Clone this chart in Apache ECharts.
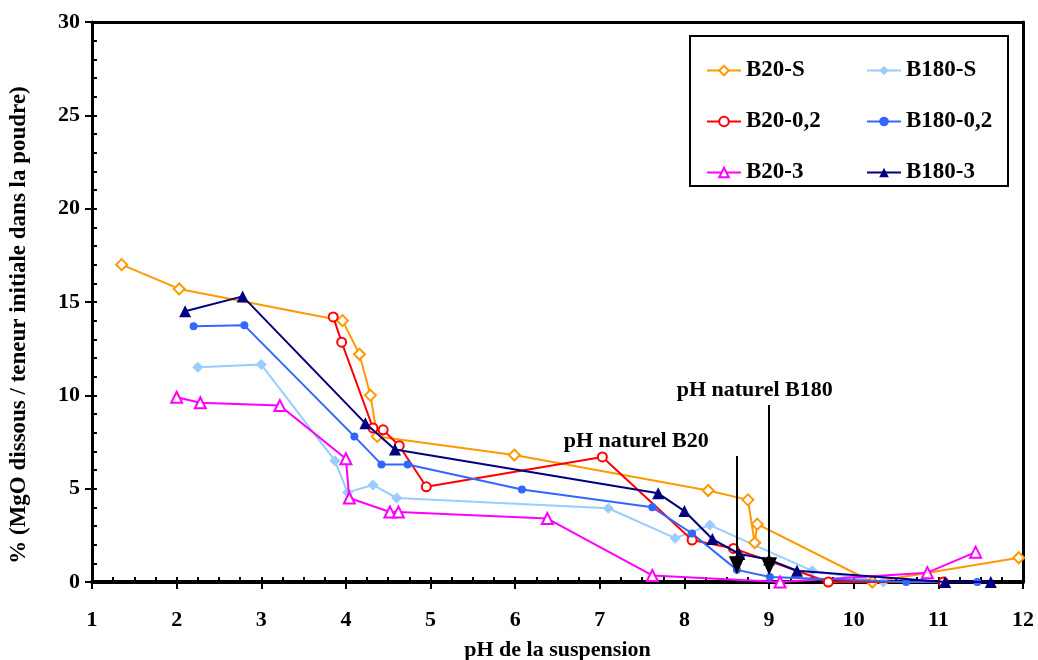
<!DOCTYPE html>
<html>
<head>
<meta charset="utf-8">
<script src="https://cdn.jsdelivr.net/npm/echarts@6/dist/echarts.min.js"></script>
<style>html,body{margin:0;padding:0;background:#fff}#c{width:1038px;height:660px}</style>
</head>
<body>
<div id="c"></div>
<script>
// ---- data (pH, % MgO dissous) ----
const b20S_x   = [1.35, 2.03, 3.96, 4.16, 4.29, 4.37, 5.99, 8.28, 8.75, 8.83, 8.86, 10.22, 11.95];
const b20S_y   = [17.0, 15.7, 14.0, 12.2, 10.0, 7.8, 6.8, 4.9, 4.4, 2.1, 3.1, 0.0, 1.3];
const b20_02_x = [3.85, 3.95, 4.32, 4.44, 4.63, 4.95, 7.03, 8.09, 8.58, 9.7, 11.06];
const b20_02_y = [14.2, 12.85, 8.25, 8.15, 7.3, 5.1, 6.7, 2.25, 1.8, 0.0, 0.0];
const b20_3_x  = [2.0, 2.28, 3.22, 4.0, 4.04, 4.52, 4.62, 6.38, 7.62, 9.13, 10.87, 11.44];
const b20_3_y  = [9.9, 9.6, 9.45, 6.6, 4.5, 3.75, 3.75, 3.4, 0.35, 0.0, 0.5, 1.6];
const b180S_x  = [2.25, 3.0, 3.87, 4.02, 4.32, 4.6, 7.1, 7.89, 8.3, 9.51, 10.35];
const b180S_y  = [11.5, 11.65, 6.5, 4.8, 5.2, 4.5, 3.95, 2.35, 3.05, 0.6, 0.0];
const b180_02_x = [2.2, 2.8, 4.1, 4.42, 4.73, 6.08, 7.62, 8.09, 8.62, 9.01, 10.62, 11.46];
const b180_02_y = [13.7, 13.75, 7.8, 6.3, 6.3, 4.95, 4.0, 2.6, 0.65, 0.27, 0.0, 0.0];
const b180_3_x = [2.1, 2.78, 4.23, 4.58, 7.69, 8.0, 8.33, 8.65, 9.0, 9.33, 11.08, 11.62];
const b180_3_y = [14.5, 15.3, 8.5, 7.1, 4.75, 3.8, 2.3, 1.5, 1.2, 0.6, 0.0, 0.0];

// annotations
const noteText = ['pH naturel B20', 'pH naturel B180'];
const noteX    = [7.43, 8.83];
const noteY    = [7.55, 10.28];
const arrowX   = [8.62, 9.0];
const arrowTop = [6.75, 9.48];
const arrowTip = [0.9, 0.85];

const xMin = 1, xMax = 12, yMin = 0, yMax = 30;
const FONT = 'Liberation Serif';

function pts(xs, ys) { return xs.map((x, i) => [x, ys[i]]); }

function line(name, xs, ys, color, symbol, size, z) {
  return {
    name, type: 'line', data: pts(xs, ys), color,
    symbol, symbolSize: size, showAllSymbol: true,
    lineStyle: { width: 2, color },
    itemStyle: { color, borderWidth: 1.6 },
    z: z || 2,
    emphasis: { disabled: true }
  };
}

const chart = echarts.init(document.getElementById('c'), null, { renderer: 'canvas' });

const axisTxt = { fontFamily: FONT, fontWeight: 'bold', fontSize: 22, color: '#000' };

const option = {
  animation: false,
  backgroundColor: '#fff',
  grid: { left: 92, right: 15, top: 22, bottom: 78, containLabel: false, outerBoundsMode: 'none' },
  xAxis: [
    { type: 'value', min: xMin, max: xMax, interval: 1, position: 'bottom',
      axisLine: { show: true, onZero: false, lineStyle: { color: '#000', width: 4 } },
      axisTick: { show: true, inside: false, length: 7, lineStyle: { color: '#000', width: 2 } },
      axisLabel: Object.assign({ margin: 27 }, axisTxt),
      splitLine: { show: false },
      name: 'pH de la suspension', nameLocation: 'middle', nameGap: 57,
      nameTextStyle: { fontFamily: FONT, fontWeight: 'bold', fontSize: 22, color: '#000' } },
    { type: 'value', min: xMin, max: xMax, interval: 0.25, position: 'bottom',
      axisLine: { show: false, onZero: false },
      axisTick: { show: true, inside: true, length: 5, lineStyle: { color: '#000', width: 2 } },
      axisLabel: { show: false }, splitLine: { show: false } },
    { type: 'value', min: xMin, max: xMax, position: 'top',
      axisLine: { show: true, onZero: false, lineStyle: { color: '#000', width: 3 } },
      axisTick: { show: false }, axisLabel: { show: false }, splitLine: { show: false } }
  ],
  yAxis: [
    { type: 'value', min: yMin, max: yMax, interval: 5, position: 'left',
      axisLine: { show: true, onZero: false, lineStyle: { color: '#000', width: 3 } },
      axisTick: { show: true, inside: false, length: 7, lineStyle: { color: '#000', width: 2 } },
      axisLabel: Object.assign({ margin: 12 }, axisTxt),
      splitLine: { show: false } },
    { type: 'value', min: yMin, max: yMax, interval: 1, position: 'left',
      axisLine: { show: false, onZero: false },
      axisTick: { show: true, inside: true, length: 5, lineStyle: { color: '#000', width: 2 } },
      axisLabel: { show: false }, splitLine: { show: false } },
    { type: 'value', min: yMin, max: yMax, position: 'right',
      axisLine: { show: true, onZero: false, lineStyle: { color: '#000', width: 3 } },
      axisTick: { show: false }, axisLabel: { show: false }, splitLine: { show: false } }
  ],
  legend: [
    { data: ['B20-S', 'B20-0,2', 'B20-3'], orient: 'vertical', left: 701, top: 54,
      itemWidth: 34, itemHeight: 12, itemGap: 28,
      textStyle: { fontFamily: FONT, fontWeight: 'bold', fontSize: 23, lineHeight: 22, color: '#000' } },
    { data: ['B180-S', 'B180-0,2', 'B180-3'], orient: 'vertical', left: 861, top: 54,
      itemWidth: 34, itemHeight: 12, itemGap: 28,
      textStyle: { fontFamily: FONT, fontWeight: 'bold', fontSize: 23, lineHeight: 22, color: '#000' } }
  ],
  graphic: [
    { type: 'rect', left: 689, top: 35, z: 0,
      shape: { width: 318, height: 150 },
      style: { fill: '#fff', stroke: '#000', lineWidth: 2 } },
    { type: 'text', x: 19, y: 325, rotation: Math.PI / 2, z: 10,
      style: { text: '% (MgO dissous / teneur initiale dans la poudre)', fontFamily: FONT,
               fontWeight: 'bold', fontSize: 23, fill: '#000', align: 'center', verticalAlign: 'middle' } }
  ],
  series: [
    line('B20-S', b20S_x, b20S_y, '#FF9900', 'emptyDiamond', 11, 2),
    line('B20-0,2', b20_02_x, b20_02_y, '#FF0000', 'emptyCircle', 9, 3),
    line('B20-3', b20_3_x, b20_3_y, '#FF00FF', 'emptyTriangle', 11, 3),
    line('B180-S', b180S_x, b180S_y, '#99CCFF', 'diamond', 11, 2),
    line('B180-0,2', b180_02_x, b180_02_y, '#3366FF', 'circle', 8, 3),
    line('B180-3', b180_3_x, b180_3_y, '#000080', 'triangle', 12, 4),
    { name: 'arrows', type: 'line', data: [], z: 6,
      markLine: {
        silent: true, symbol: ['none', 'triangle'], symbolSize: [16, 18],
        label: { show: false },
        lineStyle: { color: '#000', width: 2, type: 'solid' },
        data: arrowX.map((x, i) => [{ coord: [x, arrowTop[i]] }, { coord: [x, arrowTip[i]] }])
      } },
    { name: 'notes', type: 'scatter', symbolSize: 1, z: 7,
      itemStyle: { opacity: 0 },
      data: noteX.map((x, i) => [x, noteY[i], noteText[i]]),
      label: { show: true, position: 'inside', formatter: p => p.data[2], opacity: 1,
               textBorderWidth: 0, fontFamily: FONT, fontWeight: 'bold', fontSize: 22, color: '#000' } }
  ]
};
chart.setOption(option);
</script>
</body>
</html>
